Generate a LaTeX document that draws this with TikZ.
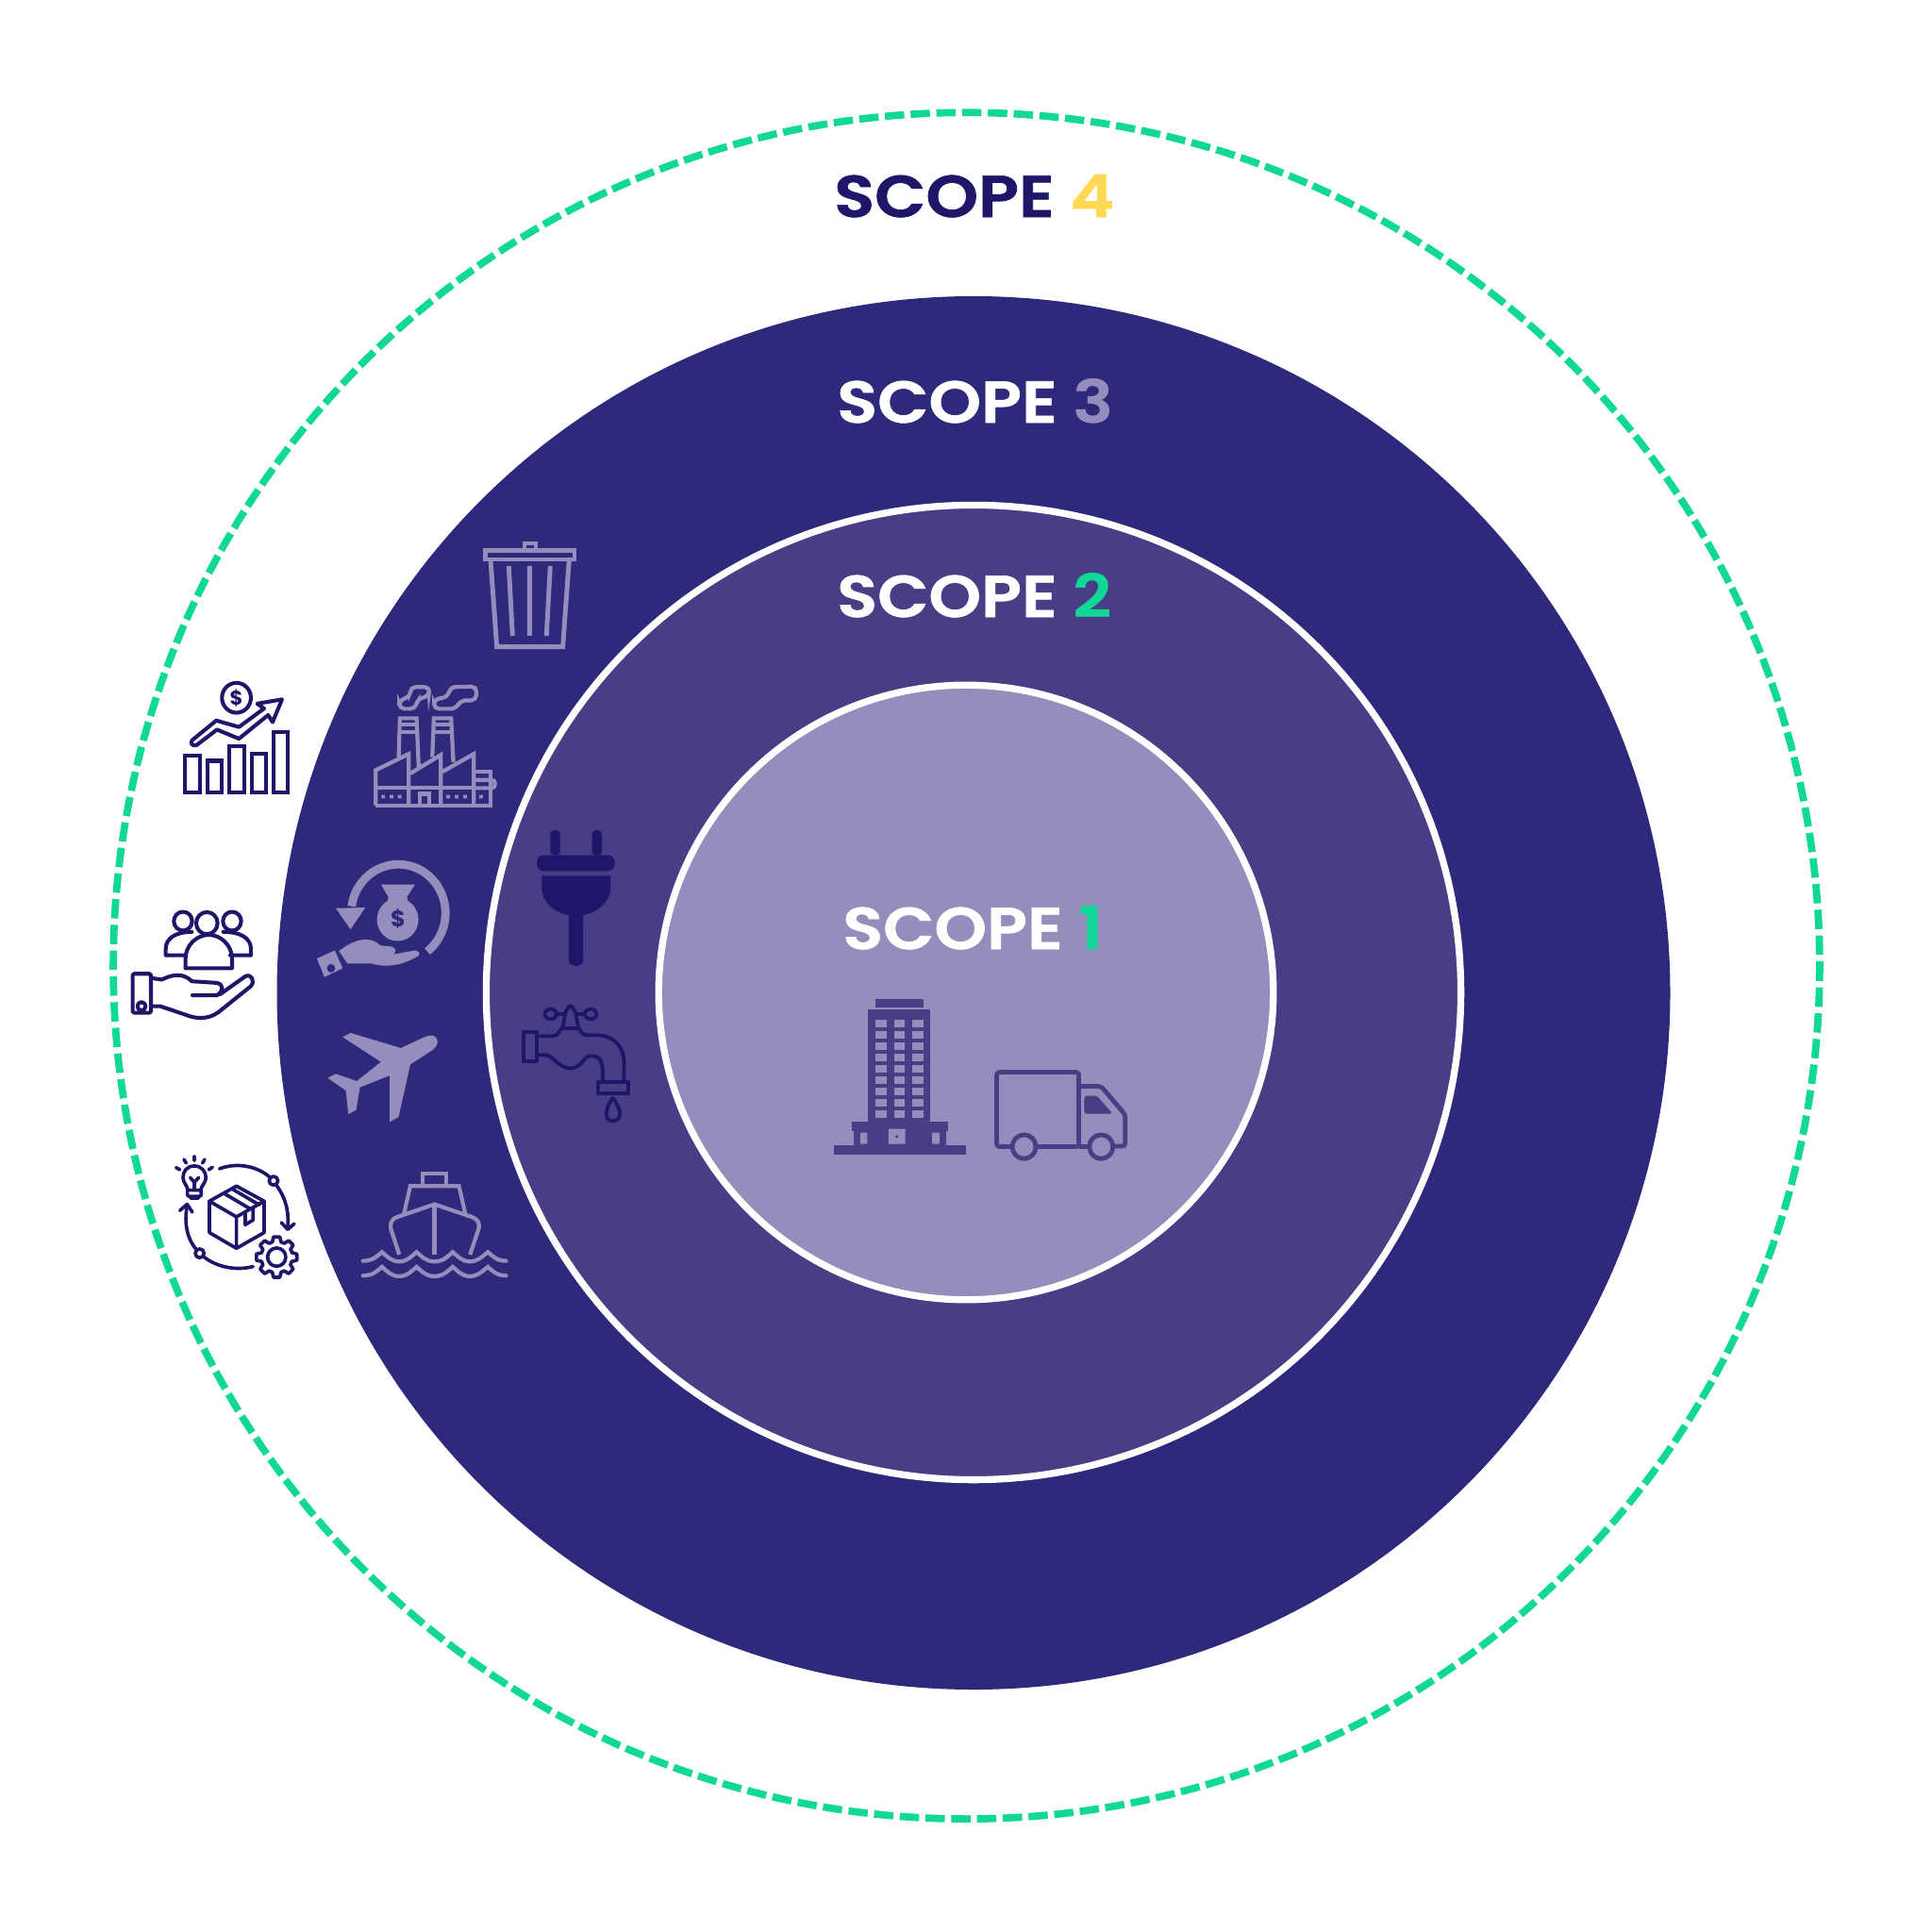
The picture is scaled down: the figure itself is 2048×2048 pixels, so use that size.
\documentclass[tikz,border=0pt]{standalone}
\usepackage{fontspec}
\setmainfont{Poppins}
\definecolor{cdark}{HTML}{2E297B}
\definecolor{cmid}{HTML}{473E85}
\definecolor{clight}{HTML}{958DBB}
\definecolor{cnavy}{HTML}{1E1669}
\definecolor{cgreen}{HTML}{11D896}
\definecolor{cyel}{HTML}{FFD954}
\newfontfamily\scopefont[FakeStretch=1.13,FakeBold=1]{Poppins SemiBold}
\newfontfamily\dollarfont{Poppins Bold}
\tikzset{
  za/.style={shift={(120,560)},x=0.016667cm,y=-0.017218cm},
  zb/.style={shift={(120,1060)},x=0.016667cm,y=-0.016667cm},
  zc/.style={shift={(540,860)},x=0.022321cm,y=-0.016667cm},
  zd/.style={shift={(490,560)},x=0.016667cm,y=-0.016667cm},
  title/.style={anchor=base west,inner sep=0pt,font=\scopefont\fontsize{89}{89}\selectfont},
  navyline/.style={draw=cnavy,line width=5.8pt,line join=round,line cap=round},
  lightline/.style={draw=clight,line width=7pt,line join=miter},
  faucetline/.style={draw=cnavy,line width=5.5pt,line join=round},
  truckline/.style={draw=cmid,line width=6.8pt,line join=round},
  dollar/.style={inner sep=0pt,font=\dollarfont\fontsize{30}{30}\selectfont},
}
\begin{document}
\begin{tikzpicture}[x=0.05cm,y=-0.05cm]
\path[use as bounding box,fill=white] (0,0) rectangle (2048,2048);
% rings
\draw[cgreen,line width=11pt,dash pattern=on 29.2pt off 9.67pt,dash phase=6pt] (1024.5,1023.7) circle (904.4);
\fill[cdark] (1032,1052.5) circle (738.5);
\draw[white,line width=10.4pt,fill=cmid] (1032,1052) circle (516.6);
\draw[white,line width=10.4pt,fill=clight] (1024,1052) circle (325.8);
% titles
\node[title,text=cnavy] (s4) at (884,230) {SCOPE {\color{cyel}4}};
\node[title,text=white] (s3) at (887,448) {SCOPE {\color{clight}3}};
\node[title,text=white] (s2) at (887,654) {SCOPE {\color{cgreen}2}};
\node[title,text=white] (s1) at (893,1006) {SCOPE {\color{cgreen}1}};

% trash
\begin{scope}[zd]
\draw[lightline] (73,71) rectangle (357,99);
\draw[lightline,line width=5.5pt] (197,68) -- (197,48) -- (233,48) -- (233,68);
\draw[lightline] (90,100) -- (110,377) -- (320,377) -- (340,100);
\draw[lightline] (148,120) -- (160,342) (214,120) -- (214,342) (280,120) -- (268,342);
\end{scope}

% zoom-1 icons
\begin{scope}[za]
% chart
\draw[navyline,line cap=butt,line join=miter] (229,701) rectangle (276,813) (300,716) rectangle (346,813) (370,672) rectangle (416,813) (440,694) rectangle (486,813) (510,628) rectangle (556,813);
\draw[navyline] (392,522) circle (46);
\node[dollar,text=cnavy] (d1) at (392,522) {\$};
\draw[navyline] (252,652) -- (328,592) -- (400,612) -- (480,555) -- (458,540) -- (537,527) -- (507,597) -- (493,575) -- (400,648) -- (330,620) -- (265,668) .. controls (250,672) and (244,660) .. (252,652) -- cycle;
% people
\draw[navyline] (222,1210) circle (29) (378,1210) circle (29);
\draw[navyline] (298,1216) circle (34);
\draw[navyline] (230,1355) -- (230,1325) .. controls (230,1285) and (265,1252) .. (304,1252) .. controls (343,1252) and (378,1285) .. (378,1325) -- (378,1355) -- cycle;
\draw[navyline] (232,1315) -- (167,1315) -- (167,1295) .. controls (167,1265) and (195,1243) .. (250,1243);
\draw[navyline] (372,1315) -- (438,1315) -- (438,1295) .. controls (438,1265) and (410,1243) .. (350,1243);
% hand
\draw[navyline,rounded corners=2pt] (62,1372) rectangle (120,1492);
\draw[navyline] (90,1472) circle (13);
\draw[navyline] (120,1385) -- (155,1390) .. controls (190,1372) and (225,1370) .. (250,1395) -- (330,1400) .. controls (352,1405) and (352,1425) .. (330,1438) -- (252,1438);
\draw[navyline] (340,1435) -- (420,1380) .. controls (440,1370) and (452,1395) .. (438,1410) -- (335,1490) .. controls (300,1515) and (260,1510) .. (230,1498) -- (150,1472) -- (120,1472);
% factory
\begin{scope}[every path/.style={lightline,line width=6pt}]
\draw (835,853) -- (1200,853) -- (1200,750) -- (1147,750);
\draw (835,853) -- (835,745) -- (940,695) -- (940,853);
\draw (835,798) -- (1147,798);
\draw (945,755) -- (1042,698) -- (1042,853);
\draw (1047,750) -- (1147,695) -- (1147,853);
\draw (1150,775) -- (1205,775) .. controls (1218,775) and (1218,800) .. (1205,800) -- (1150,800);
\draw (975,853) -- (975,818) -- (1005,818) -- (1005,853);
\draw (908,705) -- (912,585) -- (965,585) -- (972,740);
\draw (1015,705) -- (1020,585) -- (1075,585) -- (1082,720);
\draw (910,605) -- (967,605) (910,627) -- (968,627) (1018,605) -- (1077,605) (1018,627) -- (1078,627);
\draw[rounded corners=8pt] (910,556) -- (910,530) -- (945,518) -- (945,489) -- (1007,489) -- (1003,518) -- (968,525) -- (962,556) -- cycle;
\draw[rounded corners=8pt] (1020,556) -- (1020,528) -- (1066,518) -- (1072,489) -- (1156,487) -- (1155,530) -- (1105,530) -- (1090,556) -- cycle;
\end{scope}
\fill[clight] (853,821) rectangle (865,832) (880,821) rectangle (892,832) (905,821) rectangle (917,832) (1060,821) rectangle (1072,832) (1087,821) rectangle (1099,832) (1114,821) rectangle (1126,832) (1164,821) rectangle (1176,832);
% money hand
\draw[clight,line width=12.5pt] ([shift={(907,1185)}]52:150) arc (52:-172:150);
\fill[clight] (708,1170) -- (802,1168) -- (755,1235) -- cycle;
\fill[clight] (905,1205) circle (66);
\fill[clight] (852,1097) -- (960,1097) -- (935,1135) -- (938,1155) -- (872,1155) -- (875,1135) -- cycle;
\node[dollar,text=cdark,font=\dollarfont\fontsize{34}{34}\selectfont] (d2) at (906,1203) {\$};
\fill[clight] (648,1325) -- (705,1300) -- (730,1355) -- (672,1382) -- cycle;
\fill[cdark] (693,1355) circle (13);
\fill[clight] (718,1302) .. controls (770,1262) and (820,1255) .. (850,1285) -- (885,1288) .. controls (905,1295) and (900,1312) .. (885,1313) -- (960,1300) .. controls (978,1302) and (978,1315) .. (965,1320) .. controls (920,1345) and (870,1355) .. (820,1340) -- (745,1340) -- cycle;
\end{scope}

% zoom-2 icons
\begin{scope}[zb]
% plane
\fill[clight] (1030,125) .. controls (1025,108) and (1005,112) .. (990,118) -- (915,153) -- (755,105) -- (730,118) -- (852,197) -- (775,258) -- (708,235) -- (682,248) -- (740,288) -- (748,363) -- (773,350) -- (785,278) -- (880,240) -- (880,388) -- (908,372) -- (945,205) -- (1015,160) .. controls (1030,148) and (1035,135) .. (1030,125) -- cycle;
% ship
\begin{scope}[every path/.style={lightline,line width=6pt}]
\draw (985,590) -- (985,553) -- (1060,553) -- (1060,590);
\draw (925,680) -- (945,592) -- (1100,592) -- (1120,680);
\draw (910,810) -- (884,730) .. controls (878,705) and (890,695) .. (905,690) -- (1022,650) -- (1140,690) .. controls (1158,697) and (1168,708) .. (1162,730) -- (1135,810);
\draw (1022,650) -- (1022,810);
\foreach \dy in {0,47} {
\draw[line cap=round,yshift=-\dy*0.016667cm] (795,830) .. controls (825,830) and (840,815) .. (855,802) .. controls (870,815) and (885,832) .. (910,832) .. controls (935,832) and (950,815) .. (965,802) .. controls (980,815) and (995,832) .. (1022,832) .. controls (1050,832) and (1065,815) .. (1080,802) .. controls (1095,815) and (1110,832) .. (1135,832) .. controls (1160,832) and (1175,815) .. (1192,802) .. controls (1207,815) and (1220,830) .. (1250,830);
}
\end{scope}
% lifecycle
\begin{scope}[every path/.style={navyline,line width=5.2pt}]
\draw (392,592) -- (480,640) -- (480,740) -- (392,790) -- (306,740) -- (306,640) -- cycle;
\draw (306,640) -- (392,690) -- (480,640) (392,690) -- (392,790);
\draw (352,615) -- (435,664) (380,602) -- (465,652);
\draw (420,678) -- (420,715) -- (445,700) -- (445,662);
\draw (258,528) .. controls (235,528) and (222,545) .. (222,565) .. controls (222,580) and (235,590) .. (238,605) -- (278,605) .. controls (281,590) and (295,580) .. (295,565) .. controls (295,545) and (280,528) .. (258,528) -- cycle;
\draw[rounded corners=3pt] (236,605) -- (236,625) -- (280,625) -- (280,605);
\draw (247,630) -- (270,630);
\draw (245,565) -- (258,580) -- (272,565) (258,580) -- (258,605);
\draw (200,533) -- (212,540) (225,507) -- (232,519) (258,497) -- (258,511) (291,507) -- (284,519) (316,532) -- (304,540);
\draw (338,537) .. controls (395,515) and (460,530) .. (497,563);
\draw (510,575) circle (14);
\draw (520,590) .. controls (548,630) and (560,670) .. (555,728);
\draw (535,708) -- (555,730) -- (576,712);
\draw (445,848) .. controls (390,862) and (330,850) .. (288,817);
\draw (275,806) circle (14);
\draw (265,795) .. controls (235,760) and (225,710) .. (235,655);
\draw (212,670) -- (235,650) -- (252,675);
\begin{scope}[shift={(520,818)}]
\draw (-16:52) foreach \a in {0,45,...,315} { -- (\a-16:50) -- (\a-9:65) -- (\a+9:65) -- (\a+16:50) } -- cycle;
\draw (0,0) circle (29);
\end{scope}
\end{scope}
\end{scope}

% zoom-3 icons
\begin{scope}[zc]
% plug
\fill[cnavy,rounded corners=6pt] (97,140) -- (97,60) -- (120,60) -- (120,140) -- cycle;
\fill[cnavy,rounded corners=6pt] (196,140) -- (196,60) -- (220,60) -- (220,140) -- cycle;
\fill[cnavy,rounded corners=10pt] (65,140) rectangle (250,190);
\fill[cnavy] (77,205) -- (240,205) -- (240,245) .. controls (240,290) and (205,325) .. (175,330) -- (175,475) .. controls (175,497) and (141,497) .. (141,475) -- (141,330) .. controls (110,325) and (77,290) .. (77,245) -- cycle;
% faucet
\begin{scope}[every path/.style={faucetline}]
\draw (33,702) rectangle (65,795);
\draw (65,715) -- (105,715) .. controls (120,710) and (118,695) .. (125,690) -- (165,690) .. controls (170,700) and (170,712) .. (185,712) -- (210,712) .. controls (250,715) and (272,750) .. (272,800) -- (272,860);
\draw (65,775) -- (85,775) .. controls (105,778) and (115,815) .. (145,818) .. controls (175,815) and (175,775) .. (195,778) .. controls (220,780) and (222,800) .. (222,860);
\draw (210,860) rectangle (283,897);
\draw (245,912) .. controls (225,950) and (225,985) .. (245,985) .. controls (268,985) and (268,950) .. (245,912) -- cycle;
\draw (125,690) .. controls (135,660) and (125,640) .. (145,618) .. controls (165,640) and (155,660) .. (165,690);
\draw (98,645) ellipse (14 and 16) (193,645) ellipse (14 and 16);
\draw (112,645) -- (132,645) (158,645) -- (179,645);
\end{scope}
% building
\fill[cmid] (869,597) rectangle (983,623);
\fill[cmid] (851,630) rectangle (1000,988);
\foreach \wx in {869,913,957} \foreach \wy in {664,700,736,772,808,844,880,916,952}
  \fill[clight] (\wx,\wy) rectangle ++(26,22);
\fill[cmid] (813,988) rectangle (1042,1018);
\fill[cmid] (818,1018) rectangle (1037,1062);
\fill[cmid] (771,1062) rectangle (1083,1092);
\fill[clight] (833,1022) rectangle (850,1058) (1004,1022) rectangle (1021,1058) (900,1010) rectangle (940,1058);
\fill[cmid] (920,1035) ellipse (4 and 5);
% truck
\begin{scope}[every path/.style={truckline}]
\draw[rounded corners=4pt] (1195,1067) -- (1157,1067) -- (1157,830) -- (1352,830) -- (1352,1067) -- (1250,1067);
\draw[rounded corners=4pt] (1352,875) -- (1405,875) -- (1462,965) -- (1462,1065) -- (1435,1065);
\draw (1352,1067) -- (1378,1067);
\draw (1222,1067) ellipse (28 and 38) (1405,1067) ellipse (28 and 38);
\end{scope}
\fill[cmid,rounded corners=4pt] (1365,905) -- (1395,905) -- (1432,962) -- (1365,962) -- cycle;
\end{scope}
\end{tikzpicture}
\end{document}
